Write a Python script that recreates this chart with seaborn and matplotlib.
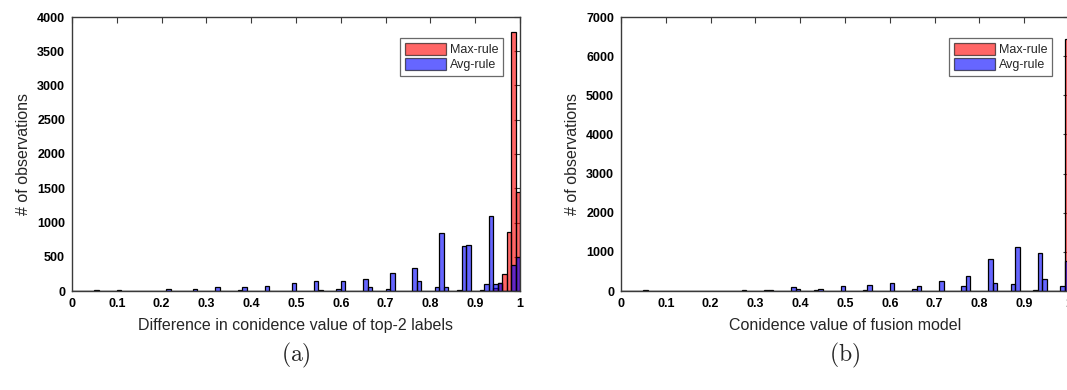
import numpy as np
import pandas as pd
import matplotlib
matplotlib.use("Agg")
import matplotlib.pyplot as plt
import seaborn as sns

# ---------------- data (bin left edges, width 0.01, and counts) ----------------
bin_edges = [round(i * 0.01, 2) for i in range(101)]

a_max_bins = [0.94, 0.95, 0.96, 0.97, 0.98, 0.99]
a_max_counts = [40, 110, 248, 866, 3780, 1450]

a_avg_bins = [0.05, 0.10, 0.21, 0.27, 0.32, 0.37, 0.38, 0.43, 0.49, 0.54, 0.55,
              0.59, 0.60, 0.65, 0.66, 0.70, 0.71, 0.76, 0.77, 0.81, 0.82, 0.83,
              0.86, 0.87, 0.88, 0.91, 0.92, 0.93, 0.94, 0.95, 0.98, 0.99]
a_avg_counts = [15, 12, 30, 30, 55, 15, 65, 80, 110, 150, 20,
                30, 150, 175, 55, 30, 260, 340, 150, 60, 850, 60,
                15, 650, 675, 15, 100, 1095, 100, 110, 380, 500]

b_max_bins = [0.99]
b_max_counts = [6450]

b_avg_bins = [0.05, 0.27, 0.32, 0.33, 0.38, 0.39, 0.43, 0.44, 0.49, 0.54, 0.55,
              0.60, 0.65, 0.66, 0.70, 0.71, 0.76, 0.77, 0.82, 0.83, 0.87, 0.88,
              0.92, 0.93, 0.94, 0.98, 0.99]
b_avg_counts = [20, 20, 25, 25, 110, 40, 30, 60, 128, 20, 145,
                195, 50, 136, 10, 264, 128, 383, 810, 195, 170, 1132,
                15, 980, 300, 136, 766]

series_labels = ["Max-rule", "Avg-rule"]
xlabels = ["Difference in conidence value of top-2 labels", "Conidence value of fusion model"]
panel_tags = ["(a)", "(b)"]
y_ticks_a = [0, 500, 1000, 1500, 2000, 2500, 3000, 3500, 4000]
y_ticks_b = [0, 1000, 2000, 3000, 4000, 5000, 6000, 7000]
x_ticks = [0, 0.1, 0.2, 0.3, 0.4, 0.5, 0.6, 0.7, 0.8, 0.9, 1]

# ---------------- style ----------------
sns.set_theme(style="white")
plt.rcParams["font.family"] = ["Liberation Sans", "DejaVu Sans"]
plt.rcParams["mathtext.fontset"] = "cm"

red = "#ff0000"
blue = "#0000ff"
spine_col = "#3a3a3a"

fig = plt.figure(figsize=(10.67, 3.90), dpi=100)
W, H = 1067, 390
def ax_rect(l, t, r, b):
    return [l / W, 1 - b / H, (r - l) / W, (b - t) / H]

ax_a = fig.add_axes(ax_rect(72, 17, 520, 291))
ax_b = fig.add_axes(ax_rect(621, 17, 1069, 291))

panels = [
    (ax_a, a_max_bins, a_max_counts, a_avg_bins, a_avg_counts, y_ticks_a, 4000),
    (ax_b, b_max_bins, b_max_counts, b_avg_bins, b_avg_counts, y_ticks_b, 7000),
]

for i, (ax, mb, mc, ab, ac, yt, ymax) in enumerate(panels):
    dmax = pd.DataFrame({"x": [v + 0.005 for v in mb], "w": mc})
    davg = pd.DataFrame({"x": [v + 0.005 for v in ab], "w": ac})
    sns.histplot(data=dmax, x="x", weights="w", bins=bin_edges, color=red,
                 alpha=0.6, edgecolor="black", linewidth=0.9, ax=ax,
                 label=series_labels[0])
    sns.histplot(data=davg, x="x", weights="w", bins=bin_edges, color=blue,
                 alpha=0.6, edgecolor="black", linewidth=0.9, ax=ax,
                 label=series_labels[1])
    ax.set_xlim(0, 1)
    ax.set_ylim(0, ymax)
    ax.set_xticks(x_ticks)
    ax.set_xticklabels([("%g" % v) for v in x_ticks])
    ax.set_yticks(yt)
    ax.set_yticklabels([str(v) for v in yt])
    ax.tick_params(direction="in", length=4, width=0.8, top=True, right=True,
                   colors=spine_col, labelcolor="black", labelsize=9, pad=5)
    for lbl in ax.get_xticklabels() + ax.get_yticklabels():
        lbl.set_fontweight("bold")
    for s in ax.spines.values():
        s.set_visible(True)
        s.set_color(spine_col)
        s.set_linewidth(1.0)
    ax.set_xlabel(xlabels[i], fontsize=11.5, labelpad=6)
    ax.set_ylabel("# of observations", fontsize=11.5, labelpad=4)
    leg = ax.legend(loc="upper right", bbox_to_anchor=(0.963, 0.923),
                    borderaxespad=0, fontsize=9, frameon=True, fancybox=False,
                    handlelength=3.3, handleheight=1.05, borderpad=0.4,
                    labelspacing=0.15, handletextpad=0.3)
    leg.get_frame().set_edgecolor("#444444")
    leg.get_frame().set_linewidth(0.9)
    for h in leg.legend_handles:
        h.set_alpha(0.6)
    cx = ((72 + 520) / 2 if i == 0 else (621 + 1069) / 2) / W
    fig.text(cx, 1 - 355 / H, r"$(\mathrm{%s})$" % panel_tags[i][1], fontsize=17,
             ha="center", va="center")

fig.savefig("out.png", dpi=100)
